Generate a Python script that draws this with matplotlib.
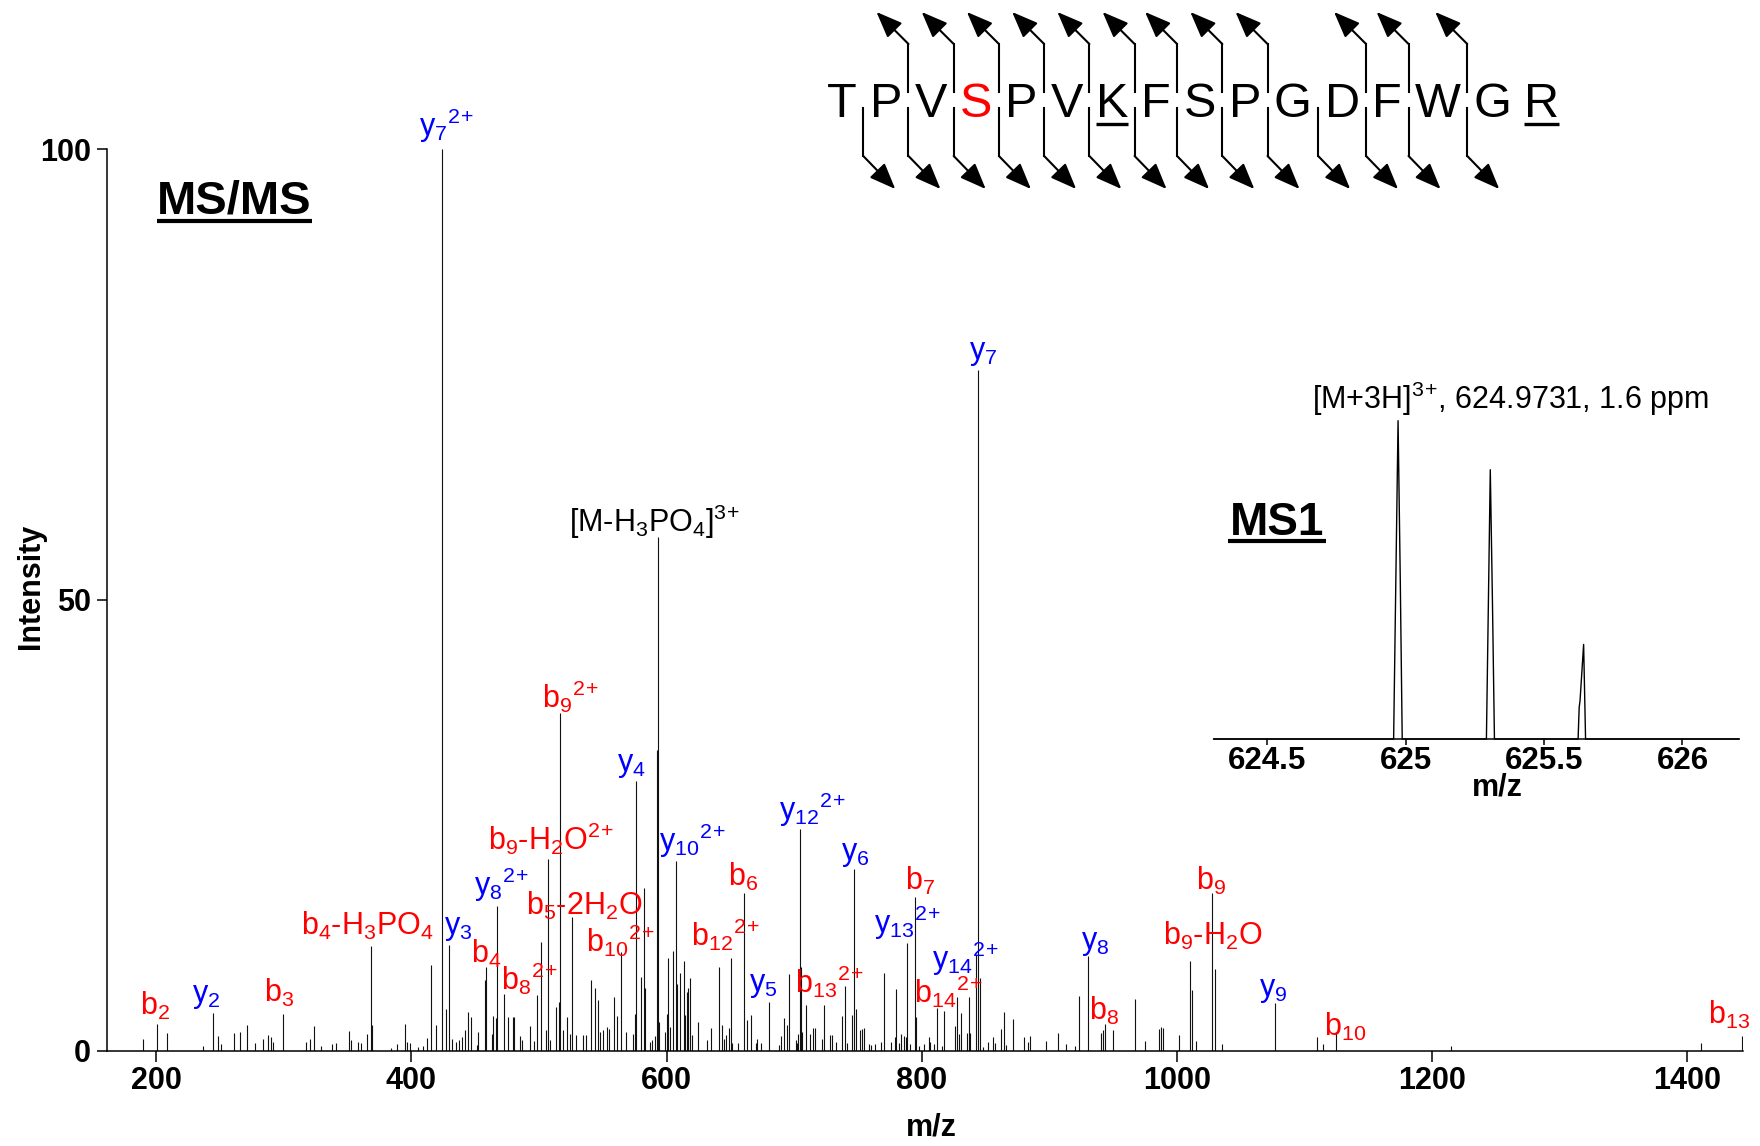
import matplotlib
matplotlib.use("Agg")
import matplotlib.pyplot as plt

plt.rcParams["font.family"] = ["Liberation Sans", "DejaVu Sans"]
plt.rcParams["mathtext.fontset"] = "custom"
plt.rcParams["mathtext.rm"] = "Liberation Sans"
plt.rcParams["mathtext.it"] = "Liberation Sans:italic"
plt.rcParams["mathtext.bf"] = "Liberation Sans:bold"
plt.rcParams["mathtext.default"] = "regular"

# superscript charge without the binary-operator spacing mathtext adds to "+"
Z2 = r"$^{2}$$^{+}$"
Z3 = r"$^{3}$$^{+}$"

# === Data: MS/MS peak list (m/z, relative intensity) ===

peak_mz = [
    190.0, 201.1, 208.6, 237.0, 244.3, 248.5, 250.8, 261.0, 265.6, 271.5,
    277.5, 283.5, 287.4, 290.1, 292.0, 299.1, 317.4, 320.7, 323.7, 329.4,
    338.1, 341.4, 351.0, 353.0, 358.5, 360.9, 365.4, 368.4, 369.5, 384.4,
    389.0, 395.0, 397.0, 399.0, 405.5, 409.4, 412.4, 415.7, 419.0, 424.2,
    427.4, 429.5, 432.0, 435.0, 437.5, 440.0, 442.0, 444.3, 446.5, 451.2,
    452.5, 457.7, 458.8, 462.9, 464.2, 466.3, 467.2, 472.7, 475.9, 479.4,
    480.4, 485.1, 486.4, 492.9, 496.3, 498.6, 501.8, 505.5, 507.3, 508.6,
    513.3, 515.4, 516.4, 519.0, 522.2, 524.3, 526.3, 529.0, 534.2, 537.3,
    540.5, 543.9, 546.0, 547.8, 550.4, 553.0, 555.1, 558.7, 560.9, 564.0,
    568.1, 573.9, 575.3, 576.4, 580.4, 582.3, 583.5, 586.9, 589.0, 590.8,
    592.2, 593.2, 594.2, 598.7, 600.0, 600.8, 602.6, 605.2, 607.3, 608.3,
    610.4, 613.6, 614.3, 615.7, 616.9, 618.8, 620.3, 624.3, 631.8, 634.5,
    641.0, 643.1, 644.9, 647.0, 649.0, 650.6, 651.7, 656.1, 660.9, 662.7,
    666.6, 670.0, 671.3, 674.4, 680.7, 688.0, 690.1, 691.9, 694.5, 695.8,
    701.1, 702.6, 703.1, 704.3, 705.2, 706.5, 709.7, 712.8, 714.8, 716.2,
    721.7, 723.7, 728.4, 730.0, 732.6, 737.8, 739.6, 741.7, 745.6, 747.1,
    748.2, 751.4, 753.5, 754.7, 758.4, 760.0, 763.2, 767.9, 770.2, 776.2,
    778.8, 779.6, 782.2, 784.1, 786.1, 787.5, 788.5, 791.1, 794.9, 795.8,
    797.6, 801.5, 805.5, 806.8, 809.6, 812.3, 816.2, 817.4, 825.8, 827.9,
    829.1, 830.5, 835.7, 836.8, 838.1, 842.9, 844.4, 845.4, 848.0, 851.9,
    855.8, 857.2, 862.4, 864.7, 865.8, 871.5, 879.9, 883.3, 885.1, 897.1,
    906.8, 913.3, 919.8, 923.0, 930.5, 940.5, 942.0, 943.9, 950.0, 966.8,
    975.1, 986.0, 987.5, 989.0, 1001.6, 1009.9, 1011.5, 1015.0, 1027.4, 1029.6,
    1035.0, 1076.7, 1109.8, 1114.7, 1124.6, 1215.0, 1411.0, 1442.7,
]
peak_int = [
    1.3, 3.0, 2.0, 0.5, 4.2, 1.6, 0.7, 2.0, 2.1, 2.9,
    0.8, 1.3, 1.7, 1.5, 1.0, 4.1, 1.0, 1.3, 2.7, 0.5,
    0.7, 0.8, 2.2, 1.2, 1.0, 0.8, 1.9, 11.6, 2.9, 0.3,
    0.7, 3.0, 1.0, 0.8, 0.4, 0.5, 1.4, 9.5, 2.9, 100.0,
    4.6, 11.7, 1.3, 1.0, 1.2, 1.5, 2.3, 4.3, 3.7, 0.6,
    2.1, 7.8, 9.3, 1.9, 3.9, 3.6, 16.1, 6.3, 3.7, 3.7,
    3.7, 1.6, 1.2, 2.7, 1.1, 6.2, 12.1, 2.3, 21.3, 1.2,
    4.8, 5.4, 37.5, 2.3, 3.7, 1.9, 14.8, 1.7, 1.7, 1.7,
    7.8, 7.0, 5.6, 2.1, 2.3, 2.6, 2.4, 6.0, 3.9, 10.9,
    2.1, 1.9, 4.1, 29.9, 8.2, 18.0, 6.9, 1.0, 1.2, 1.6,
    33.4, 57.0, 3.2, 2.1, 4.1, 10.3, 2.6, 11.1, 21.0, 7.4,
    8.6, 10.0, 4.0, 6.5, 6.9, 8.1, 1.7, 3.2, 1.2, 2.5,
    9.3, 2.8, 1.3, 1.7, 2.5, 10.3, 0.8, 0.8, 17.5, 3.4,
    4.0, 0.8, 1.3, 0.8, 5.4, 0.6, 1.6, 3.6, 2.8, 8.5,
    1.2, 0.8, 1.9, 24.6, 9.3, 2.1, 5.1, 1.9, 2.5, 2.5,
    1.3, 5.1, 1.7, 1.7, 1.0, 3.9, 7.2, 0.8, 4.0, 20.2,
    4.6, 2.3, 2.4, 2.5, 0.7, 0.6, 0.7, 1.0, 8.6, 1.0,
    1.5, 6.8, 0.8, 1.9, 1.6, 1.5, 11.9, 0.7, 17.1, 3.7,
    0.5, 0.7, 1.5, 1.0, 0.7, 4.7, 0.5, 4.4, 2.7, 5.9,
    1.9, 4.2, 2.0, 5.9, 2.0, 10.6, 75.5, 8.1, 0.4, 1.0,
    1.5, 0.8, 2.4, 4.3, 0.6, 3.5, 1.5, 1.0, 1.6, 1.1,
    2.0, 0.7, 0.5, 6.1, 10.5, 2.0, 2.3, 3.0, 2.3, 5.7,
    1.1, 2.4, 2.6, 2.5, 1.7, 9.9, 6.7, 1.1, 17.5, 9.1,
    0.7, 5.3, 1.5, 0.7, 2.1, 0.5, 0.9, 1.6,
]

# === Data: fragment ion annotations ===

ion_text = [
    r"b$_2$", r"y$_2$", r"b$_3$", r"b$_4$-H$_3$PO$_4$", r"y$_3$",
    r"y$_7$" + Z2, r"b$_4$", r"y$_8$" + Z2, r"b$_8$" + Z2,
    r"b$_9$-H$_2$O" + Z2, r"b$_5$-2H$_2$O", r"b$_9$" + Z2,
    r"b$_{10}$" + Z2, r"y$_4$", r"[M-H$_3$PO$_4$]" + Z3,
    r"y$_{10}$" + Z2, r"b$_6$", r"b$_{12}$" + Z2, r"y$_5$",
    r"y$_{12}$" + Z2, r"b$_{13}$" + Z2, r"y$_6$", r"b$_7$",
    r"y$_{13}$" + Z2, r"y$_{14}$" + Z2, r"b$_{14}$" + Z2, r"y$_7$",
    r"y$_8$", r"b$_8$", r"b$_9$-H$_2$O", r"b$_9$", r"y$_9$", r"b$_{10}$",
    r"b$_{13}$",
]
ion_type = [
    "b", "y", "b", "b", "y", "y", "b", "y", "b", "b", "b", "b", "b", "y",
    "M", "y", "b", "b", "y", "y", "b", "y", "b", "y", "y", "b", "y", "y",
    "b", "b", "b", "y", "b", "b",
]
# text anchor (centre, bottom) in data units
ion_label_mz = [
    199.1, 239.6, 296.7, 365.3, 436.5, 427.7, 458.5, 470.8, 492.7, 509.5,
    535.8, 524.6, 564.0, 572.2, 591.1, 620.2, 659.8, 645.7, 675.6, 714.3,
    727.5, 747.7, 798.7, 789.0, 834.5, 820.7, 847.9, 935.8, 942.9, 1028.1,
    1026.4, 1075.6, 1131.9, 1432.5,
]
ion_label_int = [
    3.2, 4.4, 4.6, 12.0, 11.9, 100.5, 8.9, 16.3, 5.9, 21.5,
    14.3, 37.2, 10.2, 30.0, 56.6, 21.1, 17.5, 10.8, 5.6, 24.6,
    5.6, 20.2, 17.1, 12.1, 8.1, 4.5, 75.7, 10.3, 2.6, 10.9,
    17.1, 5.1, 0.9, 2.2,
]
ion_colors = {"b": "#ff0000", "y": "#0000ff", "M": "black"}

# === Data: MS1 inset profile ===

ms1_mz = [
    624.307, 624.957, 624.965, 624.973, 624.981, 624.988,
    625.292, 625.299, 625.306, 625.314, 625.321,
    625.623, 625.627, 625.630, 625.643, 625.650, 626.204,
]
ms1_int = [
    0, 0, 50, 100, 50, 0,
    0, 42, 84.6, 42, 0,
    0, 10, 12, 29.7, 0, 0,
]
ms1_note = r"[M+3H]" + Z3 + ", 624.9731, 1.6 ppm"

# === Data: peptide sequence ===

sequence = "TPVSPVKFSPGDFWGR"
phospho_site = [3]
underlined = [6, 15]
b_breaks = list(range(1, 15))
y_breaks = [2, 3, 4, 5, 6, 7, 8, 9, 10, 12, 13, 14]
letter_em = {"T": 0.611, "P": 0.667, "V": 0.667, "S": 0.667, "K": 0.667,
             "F": 0.611, "G": 0.778, "D": 0.722, "W": 0.944, "R": 0.722}

# === Figure ===

W, H = 1760, 1146
fig = plt.figure(figsize=(W / 100, H / 100), dpi=100)

ax = fig.add_axes([0.0606, 0.0832, 0.9297, 0.7865])
ax.vlines(peak_mz, 0, peak_int, colors="#111111", lw=0.8)
ax.set_xlim(161.3, 1443.5)
ax.set_ylim(0, 100)
for s in ["top", "right"]:
    ax.spines[s].set_visible(False)
for s in ["left", "bottom"]:
    ax.spines[s].set_linewidth(1.1)
ax.set_xticks([200, 400, 600, 800, 1000, 1200, 1400])
ax.set_xticklabels(["200", "400", "600", "800", "1000", "1200", "1400"],
                   fontsize=22, fontweight="bold")
ax.set_yticks([0, 50, 100])
ax.set_yticklabels(["0", "50", "100"], fontsize=22, fontweight="bold")
ax.tick_params(axis="x", direction="out", length=8, width=1.1, pad=3)
ax.tick_params(axis="y", direction="out", length=7.5, width=1.1, pad=4)

for txt, kind, lx, ly in zip(ion_text, ion_type, ion_label_mz, ion_label_int):
    ax.text(lx, ly, txt, color=ion_colors[kind], fontsize=22,
            ha="center", va="bottom", clip_on=False)

fig.text(31.4 / W, 1 - 586 / H, "Intensity", rotation=90, fontsize=22,
         fontweight="bold", ha="center", va="center")
fig.text(931 / W, 1 - 1128 / H, "m/z", fontsize=22, fontweight="bold",
         ha="center", va="center")

# === MS1 inset ===

ax_in = fig.add_axes([1213.6 / W, 1 - 739 / H, 525.4 / W, 318.3 / H])
ax_in.plot(ms1_mz, ms1_int, color="black", lw=1.0, clip_on=False)
ax_in.set_xlim(624.307, 626.204)
ax_in.set_ylim(0, 100)
ax_in.patch.set_alpha(0)
for s in ["top", "right", "left"]:
    ax_in.spines[s].set_visible(False)
ax_in.spines["bottom"].set_linewidth(1.1)
ax_in.set_yticks([])
ax_in.set_xticks([624.5, 625, 625.5, 626])
ax_in.set_xticklabels(["624.5", "625", "625.5", "626"], fontsize=22.5,
                      fontweight="bold")
ax_in.tick_params(axis="x", direction="out", length=4.5, width=1.1, pad=0.5)
ax_in.text(625.379, 100.8, ms1_note, fontsize=22, ha="center", va="bottom",
           clip_on=False)
fig.text(1497 / W, 1 - 788 / H, "m/z", fontsize=22, fontweight="bold",
         ha="center", va="center")

# === Overlay in pixel units: titles and sequence map ===

ov = fig.add_axes([0, 0, 1, 1])
ov.set_xlim(0, W)
ov.set_ylim(H, 0)
ov.set_axis_off()

ov.text(234.5, 213, "MS/MS", fontsize=34, fontweight="bold",
        ha="center", va="baseline")
ov.plot([157, 312], [220.5, 220.5], color="black", lw=3, solid_capstyle="butt")
ov.text(1277, 535, "MS1", fontsize=33, fontweight="bold",
        ha="center", va="baseline")
ov.plot([1228, 1326], [541, 541], color="black", lw=3, solid_capstyle="butt")

em = 35 * 100 / 72
gap = 12.8
centers = []
x = 842
for i, ch in enumerate(sequence):
    if i > 0:
        x += (letter_em[sequence[i - 1]] + letter_em[ch]) / 2 * em + gap
    centers.append(x)

for i, ch in enumerate(sequence):
    color = "#ff0000" if i in phospho_site else "black"
    ov.text(centers[i], 117, ch, fontsize=35, color=color,
            ha="center", va="baseline")
    if i in underlined:
        half = letter_em[ch] / 2 * em
        ov.plot([centers[i] - half, centers[i] + half], [123.5, 123.5],
                color="black", lw=2.4, solid_capstyle="butt")


def gap_x(n):
    # position between residue n and n+1 (1-based n)
    return centers[n - 1] + letter_em[sequence[n - 1]] / 2 * em + gap / 2


arrow = dict(arrowstyle="-|>,head_length=0.8,head_width=0.32",
             color="black", lw=1.5, mutation_scale=20, shrinkA=0, shrinkB=0)
for n in b_breaks:
    xg = gap_x(n)
    ov.plot([xg, xg], [108, 156], color="black", lw=1.5)
    ov.annotate("", xy=(xg + 32, 189), xytext=(xg, 156), arrowprops=arrow)
for n in y_breaks:
    xg = gap_x(n)
    ov.plot([xg, xg], [92, 44], color="black", lw=1.5)
    ov.annotate("", xy=(xg - 32, 12), xytext=(xg, 44), arrowprops=arrow)

fig.savefig("out.png", dpi=100)
